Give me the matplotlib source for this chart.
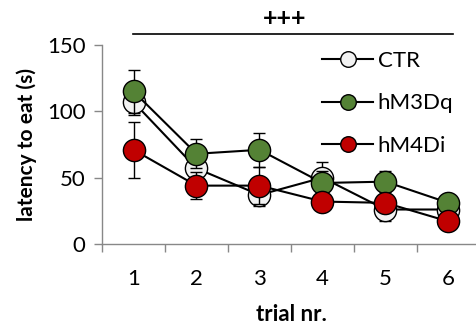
import matplotlib
matplotlib.use("Agg")
import matplotlib.pyplot as plt
import numpy as np

plt.rcParams['font.family'] = ['Lato', 'DejaVu Sans']

trials = [1, 2, 3, 4, 5, 6]
ctr = [107, 57, 37, 50, 26, 26]
ctr_err = [10, 8, 8, 12, 9, 5]
m3 = [115, 68, 71, 46, 47, 31]
m3_err = [16, 11, 13, 9, 8, 5]
m4 = [71, 44, 44, 32, 31, 17]
m4_err = [21, 10, 14, 6, 6, 4]

series = [
    ("CTR", ctr, ctr_err, "#f2f2f2"),
    ("hM3Dq", m3, m3_err, "#548235"),
    ("hM4Di", m4, m4_err, "#c00000"),
]

fig = plt.figure(figsize=(4.77, 3.24), dpi=100)
ax = fig.add_axes([102/477, 1 - 244/324, 378/477, 199/324])

x = np.array(trials)
for i, (name, vals, err, col) in enumerate(series):
    ax.errorbar(x, vals, yerr=err, fmt='none', ecolor='black', elinewidth=1,
                capsize=4, capthick=1, zorder=2 + i)
    ax.plot(x, vals, '-o', color='black', lw=1.5, marker='o', ms=16,
            mfc=col, mec='black', mew=1, label=name, zorder=3 + i)

ax.set_xlim(0.5, 6.5)
ax.set_ylim(0, 150)
ax.set_yticks([0, 50, 100, 150])
ax.set_xticks(x)
ax.set_xticks(np.arange(0.5, 7, 1), minor=True)
ax.tick_params(axis='x', which='major', length=0, labelsize=16, pad=18)
ax.tick_params(axis='x', which='minor', length=6, color='#888888', width=1)
ax.tick_params(axis='y', length=6, color='#888888', width=1, labelsize=16, pad=6)
for s in ['top', 'right']:
    ax.spines[s].set_visible(False)
for s in ['left', 'bottom']:
    ax.spines[s].set_color('#888888')
    ax.spines[s].set_linewidth(1)

ax.set_xlabel('trial nr.', fontsize=16, fontweight='bold', labelpad=11)
ax.set_ylabel('latency to eat (s)', fontsize=15, fontweight='bold', labelpad=7)

# significance bar
ax.plot([0.99, 6.07], [158, 158], color='black', lw=1.2, clip_on=False)
ax.text(3.4, 161, '+++', ha='center', va='bottom', fontsize=18, fontweight='bold')

leg = ax.legend(loc='upper left', bbox_to_anchor=(311/477, 1 - 40/324),
                bbox_transform=fig.transFigure, frameon=False, fontsize=16,
                markerscale=0.7, handlelength=2.3, handletextpad=0.2,
                labelspacing=1.0, borderpad=0)

fig.savefig('out.png', dpi=100)
